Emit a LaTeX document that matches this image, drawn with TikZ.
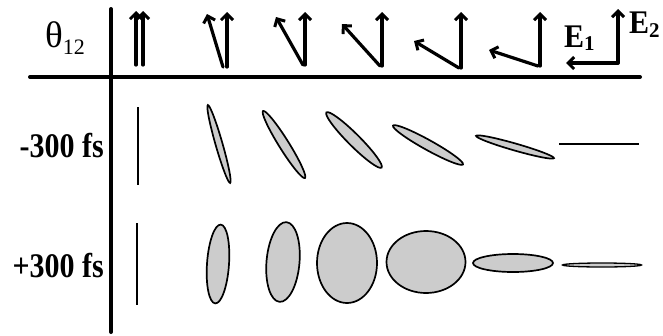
\documentclass[tikz,border=0pt]{standalone}
\usepackage{fontspec}
\setmainfont{Liberation Serif}
\usetikzlibrary{arrows.meta,shapes.geometric}
\begin{document}
\begin{tikzpicture}[x=1pt,y=-1pt,
  axis/.style={line width=4pt, line cap=round},
  vec/.style={line width=3.2pt, line cap=round, line join=round, -{Straight Barb[length=6pt,width=12pt,line width=3pt]}},
  ell/.style={ellipse, draw, line width=1.7pt, fill=black!20, inner sep=0pt, outer sep=0pt},
  bar/.style={line width=1.5pt},
  lab/.style={font=\fontsize{30}{36}\selectfont\bfseries, inner sep=0pt}]
\useasboundingbox (0,0) rectangle (663,335);

% axes
\coordinate (hl) at (30,77);
\coordinate (hr) at (640,77);
\coordinate (vt) at (111,9);
\coordinate (vb) at (111,332);
\draw[axis] (hl) -- (hr);
\draw[axis] (vt) -- (vb);

% labels
\node[inner sep=0pt, anchor=base west, font=\fontsize{37}{40}\selectfont] (theta) at (45,47)
  {θ\raisebox{-7pt}{\fontsize{22}{22}\selectfont 12}};
\node[lab, anchor=base east] (m300) at (104,157) {\scalebox{1}[1.15]{-300 fs}};
\node[lab, anchor=base east] (p300) at (104,277) {\scalebox{1}[1.15]{+300 fs}};
\node[lab, anchor=base west] (e1) at (564,47) {\scalebox{1}[1.1]{E}\raisebox{-3pt}{\fontsize{21}{21}\selectfont 1}};
\node[lab, anchor=base west] (e2) at (629,33) {\scalebox{1}[1.1]{E}\raisebox{-4pt}{\fontsize{21}{21}\selectfont 2}};

% field vectors
\coordinate (a1) at (136,65); \coordinate (a1t) at (136,11);
\coordinate (b1) at (143,65); \coordinate (b1t) at (143,11);
\draw[vec] (a1) -- (a1t);
\draw[vec] (b1) -- (b1t);

\coordinate (v2) at (227,67); \coordinate (v2t) at (227,12);
\coordinate (t2) at (223,67); \coordinate (t2t) at (207,14);
\draw[vec] (v2) -- (v2t);
\draw[vec] (t2) -- (t2t);

\coordinate (v3) at (305,65); \coordinate (v3t) at (305,12);
\coordinate (t3) at (303,65); \coordinate (t3t) at (276,17);
\draw[vec] (v3) -- (v3t);
\draw[vec] (t3) -- (t3t);

\coordinate (v4) at (382,66); \coordinate (v4t) at (382,12);
\coordinate (t4) at (380,66); \coordinate (t4t) at (342,24);
\draw[vec] (v4) -- (v4t);
\draw[vec] (t4) -- (t4t);

\coordinate (v5) at (461,68); \coordinate (v5t) at (461,12);
\coordinate (t5) at (459,68); \coordinate (t5t) at (414,41);
\draw[vec] (v5) -- (v5t);
\draw[vec] (t5) -- (t5t);

\coordinate (v6) at (540,66); \coordinate (v6t) at (540,12);
\coordinate (t6) at (538,66); \coordinate (t6t) at (489,50);
\draw[vec] (v6) -- (v6t);
\draw[vec] (t6) -- (t6t);

\coordinate (v7) at (618,63); \coordinate (v7t) at (618,9);
\coordinate (t7t) at (566,63);
\draw[vec] (v7) -- (v7t);
\draw[vec] (v7) -- (t7t);

% row -300 fs
\coordinate (r1s) at (138,107); \coordinate (r1e) at (138,185);
\draw[bar] (r1s) -- (r1e);
\node[ell, minimum width=81pt, minimum height=7pt, rotate=106] (r2) at (219,144) {};
\node[ell, minimum width=79pt, minimum height=10pt, rotate=122] (r3) at (284,144.5) {};
\node[ell, minimum width=78pt, minimum height=12pt, rotate=135] (r4) at (354,140) {};
\node[ell, minimum width=80pt, minimum height=10pt, rotate=151] (r5) at (428,145) {};
\node[ell, minimum width=81pt, minimum height=7pt, rotate=164] (r6) at (515,147) {};
\coordinate (r7s) at (559,144); \coordinate (r7e) at (639,144);
\draw[bar] (r7s) -- (r7e);

% row +300 fs
\coordinate (s1s) at (137,223); \coordinate (s1e) at (137,305);
\draw[bar] (s1s) -- (s1e);
\node[ell, minimum width=79pt, minimum height=22pt, rotate=86] (s2) at (218,264) {};
\node[ell, minimum width=80pt, minimum height=33pt, rotate=85] (s3) at (283,262) {};
\node[ell, minimum width=80pt, minimum height=60pt, rotate=90] (s4) at (347,263) {};
\node[ell, minimum width=79pt, minimum height=62pt] (s5) at (426,262) {};
\node[ell, minimum width=80pt, minimum height=18pt] (s6) at (513,263) {};
\node[ell, minimum width=79pt, minimum height=4pt, line width=1.3pt] (s7) at (602,265) {};
\end{tikzpicture}
\end{document}
